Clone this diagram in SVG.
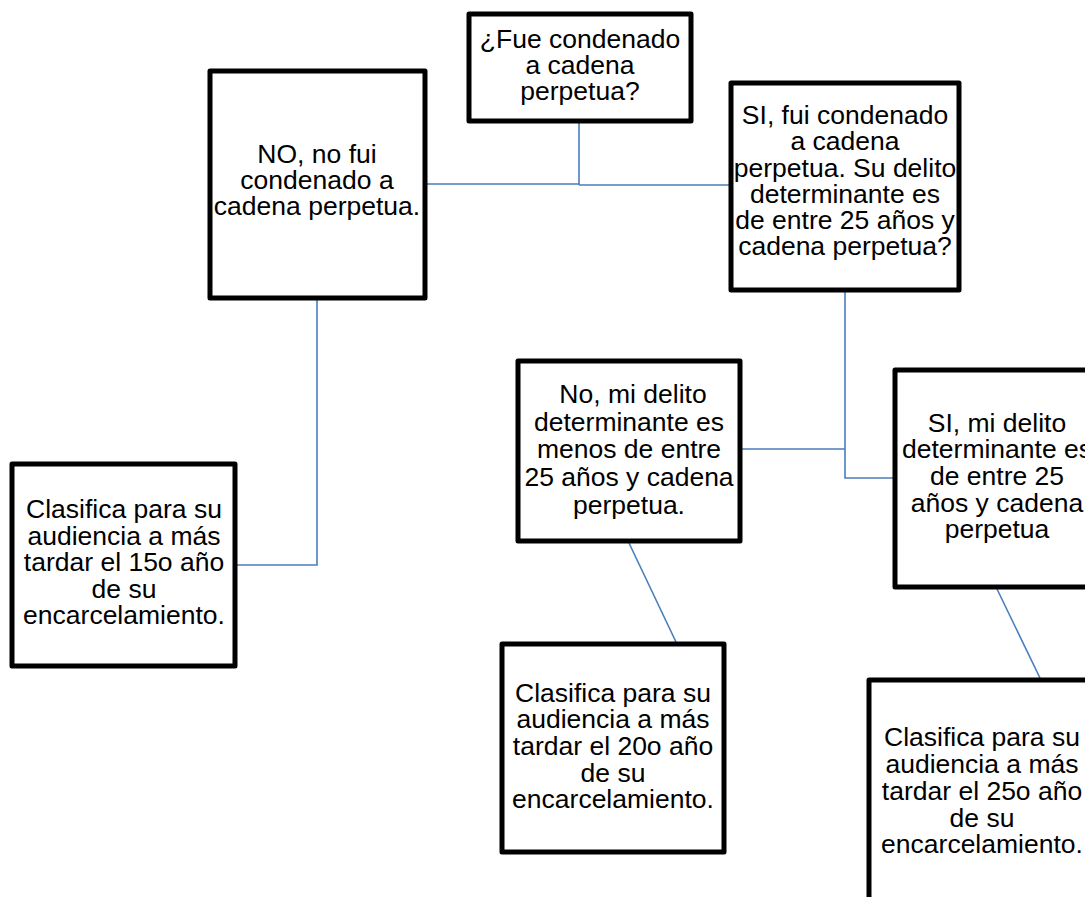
<svg xmlns="http://www.w3.org/2000/svg" width="1085" height="897" viewBox="0 0 1085 897">
<style>
.box{fill:#fff;stroke:#000;stroke-width:5;stroke-linejoin:round}
.t{font-family:"Liberation Sans",Arial,sans-serif;font-size:26.5px;fill:#000;text-anchor:middle}
.c{fill:none;stroke:#4a7ebb;stroke-width:1.6}
</style>
<rect width="1085" height="897" fill="#fff"/>
<g id="connectors">
<path class="c" d="M579,123 V185 M427,184 H579 M579,185 H731"/>
<path class="c" d="M317,300 V565 H237"/>
<path class="c" d="M845,292 V478 H895 M742,449 H845"/>
<path class="c" d="M629,543 L676,642"/>
<path class="c" d="M997,589 L1040,678"/>
</g>
<g id="n-top">
<rect class="box" x="469" y="14" width="222" height="107"/>
<text class="t" x="580" y="48">¿Fue condenado</text>
<text class="t" x="580" y="74">a cadena</text>
<text class="t" x="580" y="100">perpetua?</text>
</g>
<g id="n-no">
<rect class="box" x="210" y="71" width="215" height="227"/>
<text class="t" x="317" y="163">NO, no fui</text>
<text class="t" x="317" y="189">condenado a</text>
<text class="t" x="317" y="215">cadena perpetua.</text>
</g>
<g id="n-si">
<rect class="box" x="731" y="83" width="228" height="207"/>
<text class="t" x="845" y="124">SI, fui condenado</text>
<text class="t" x="845" y="150">a cadena</text>
<text class="t" x="845" y="177">perpetua. Su delito</text>
<text class="t" x="845" y="203">determinante es</text>
<text class="t" x="845" y="229">de entre 25 años y</text>
<text class="t" x="845" y="255">cadena perpetua?</text>
</g>
<g id="n-nodelito">
<rect class="box" x="518" y="361" width="222" height="180"/>
<text class="t" x="633" y="403">No, mi delito</text>
<text class="t" x="629" y="431">determinante es</text>
<text class="t" x="629" y="458">menos de entre</text>
<text class="t" x="629" y="486">25 años y cadena</text>
<text class="t" x="629" y="514">perpetua.</text>
</g>
<g id="n-sidelito">
<rect class="box" x="895" y="370" width="204" height="217"/>
<text class="t" x="997" y="432">SI, mi delito</text>
<text class="t" x="997" y="458">determinante es</text>
<text class="t" x="997" y="485">de entre 25</text>
<text class="t" x="997" y="512">años y cadena</text>
<text class="t" x="997" y="538">perpetua</text>
</g>
<g id="n-15">
<rect class="box" x="12" y="464" width="223" height="202"/>
<text class="t" x="124" y="518">Clasifica para su</text>
<text class="t" x="124" y="545">audiencia a más</text>
<text class="t" x="124" y="571">tardar el 15o año</text>
<text class="t" x="124" y="598">de su</text>
<text class="t" x="124" y="624">encarcelamiento.</text>
</g>
<g id="n-20">
<rect class="box" x="502" y="644" width="222" height="208"/>
<text class="t" x="613" y="702">Clasifica para su</text>
<text class="t" x="613" y="728">audiencia a más</text>
<text class="t" x="613" y="755">tardar el 20o año</text>
<text class="t" x="613" y="782">de su</text>
<text class="t" x="613" y="808">encarcelamiento.</text>
</g>
<g id="n-25">
<rect class="box" x="869" y="680" width="226" height="240"/>
<text class="t" x="982" y="746">Clasifica para su</text>
<text class="t" x="982" y="773">audiencia a más</text>
<text class="t" x="982" y="800">tardar el 25o año</text>
<text class="t" x="982" y="827">de su</text>
<text class="t" x="982" y="853">encarcelamiento.</text>
</g>
</svg>
